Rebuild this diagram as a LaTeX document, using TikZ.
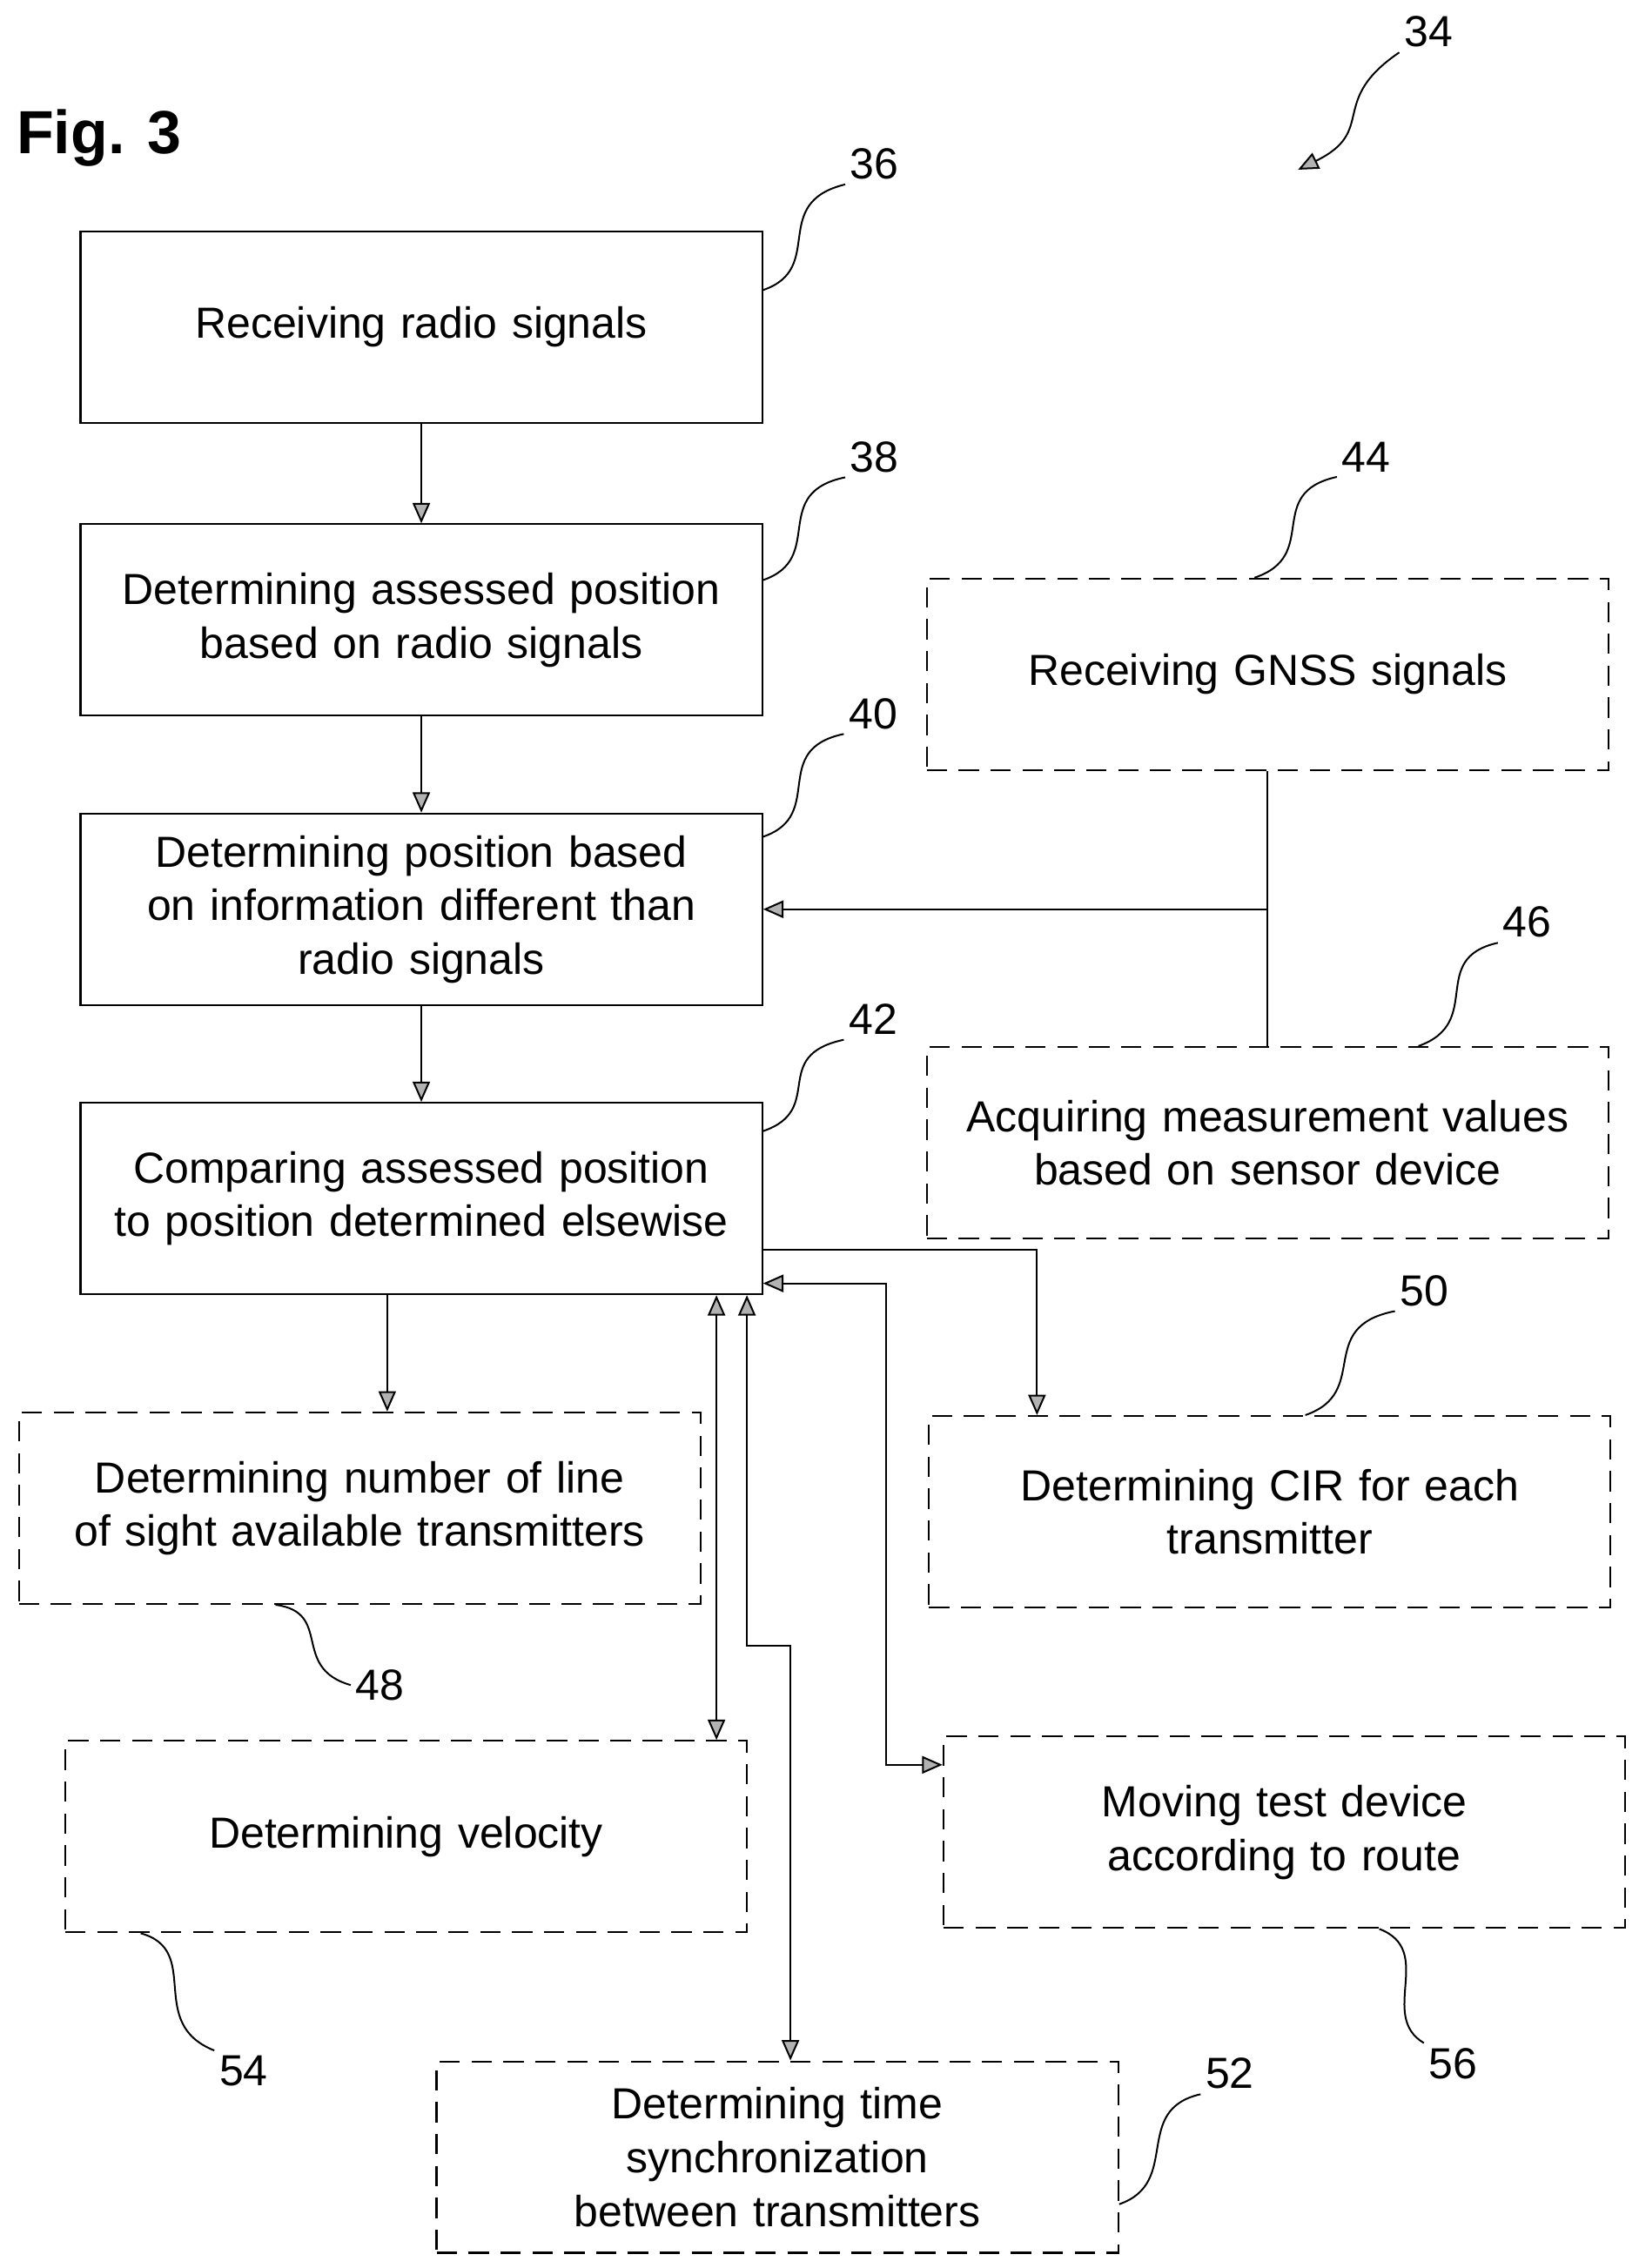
\documentclass[tikz,border=0pt]{standalone}
\usepackage{fontspec}
\setmainfont{Liberation Sans}
\usetikzlibrary{arrows.meta}
\tikzset{
	stepbox/.style={draw, line width=1.3pt, minimum width=467pt, minimum height=132pt, inner sep=0pt, text width=470pt, align=center, font=\fontsize{30}{37}\selectfont},
	optbox/.style={stepbox, dash pattern=on 14pt off 8pt},
	tip/.tip={Triangle[length=14pt,width=12pt,fill=gray!60]},
	conn/.style={line width=1.2pt, -tip},
	both/.style={line width=1.2pt, tip-tip},
	lead/.style={line width=1.2pt},
	num/.style={font=\fontsize{30}{32}\selectfont}
}
\begin{document}
\begin{tikzpicture}[x=1pt,y=-1pt]
	\useasboundingbox (0,0) rectangle (1130,1564);
	\node[font=\bfseries\fontsize{42}{44}\selectfont, anchor=west] (fig) at (8,95) {Fig. 3};

	% main steps
	\node[stepbox] (r36) at (290.5,225.5) {Receiving radio signals};
	\node[stepbox] (r38) at (290.5,427.5) {Determining assessed position\\based on radio signals};
	\node[stepbox] (r40) at (290.5,627) {Determining position based\\on information different than\\radio signals};
	\node[stepbox] (r42) at (290.5,826.5) {Comparing assessed position\\to position determined elsewise};

	% optional steps
	\node[optbox] (r44) at (874,465) {Receiving GNSS signals};
	\node[optbox] (r46) at (874,788) {Acquiring measurement values\\based on sensor device};
	\node[optbox] (r48) at (248,1040) {Determining number of line\\of sight available transmitters};
	\node[optbox] (r50) at (875.5,1042.5) {Determining CIR for each\\transmitter};
	\node[optbox] (r54) at (280,1266.5) {Determining velocity};
	\node[optbox] (r56) at (885.5,1263.5) {Moving test device\\according to route};
	\node[optbox] (r52) at (536,1487.5) {Determining time\\synchronization\\between transmitters};

	% connectors
	\draw[conn] (r36.south) -- (r38.north);
	\draw[conn] (r38.south) -- (r40.north);
	\draw[conn] (r40.south) -- (r42.north);
	\draw[lead] (r44.south) -- (r46.north);
	\coordinate (j44) at (r44.south |- r40.east);
	\draw[conn] (j44) -- (r40.east);
	\draw[conn] (r42.south -| 267,0) -- (r48.north -| 267,0);
	\draw[conn] (r42.east |- 0,862) -| (r50.north -| 715,0);
	\draw[both] (r42.east |- 0,885) -| (611,1217) -- (r56.west |- 0,1217);
	\draw[both] (r42.south -| 494,0) -- (r54.north -| 494,0);
	\draw[both] (r42.south -| 515,0) -- (515,1135) -| (r52.north -| 545,0);

	% reference numerals
	\node[num] (n34) at (985,22) {34};
	\node[num] (n36) at (603,113) {36};
	\node[num] (n38) at (603,315) {38};
	\node[num] (n40) at (602,492) {40};
	\node[num] (n42) at (602,703) {42};
	\node[num] (n44) at (942,315) {44};
	\node[num] (n46) at (1053,636) {46};
	\node[num] (n50) at (982,890) {50};
	\node[num] (n48) at (262,1162) {48};
	\node[num] (n54) at (168,1428) {54};
	\node[num] (n56) at (1002,1423) {56};
	\node[num] (n52) at (848,1430) {52};

	\draw[conn] (n34.south west) .. controls (915,70) and (950,90) .. (895,117);
	\draw[lead] (r36.east |- 0,200) .. controls (570,185) and (530,140) .. (n36.south west);
	\draw[lead] (r38.east |- 0,400) .. controls (570,385) and (530,340) .. (n38.south west);
	\draw[lead] (r40.east |- 0,577) .. controls (570,562) and (530,517) .. (n40.south west);
	\draw[lead] (r42.east |- 0,780) .. controls (570,765) and (530,728) .. (n42.south west);
	\draw[lead] (r44.north -| 865,0) .. controls (911,383) and (871,340) .. (n44.south west);
	\draw[lead] (r46.north -| 978,0) .. controls (1024,705) and (984,661) .. (n46.south west);
	\draw[lead] (r50.north -| 900,0) .. controls (946,960) and (906,915) .. (n50.south west);
	\draw[lead] (r48.south -| 190,0) .. controls (230,1112) and (200,1150) .. (n48.west);
	\draw[lead] (r54.south -| 97,0) .. controls (140,1345) and (100,1395) .. (n54.north west);
	\draw[lead] (r56.south -| 951,0) .. controls (990,1345) and (950,1390) .. (n56.north west);
	\draw[lead] (r52.east |- 0,1520) .. controls (815,1505) and (780,1455) .. (n52.south west);
\end{tikzpicture}
\end{document}
